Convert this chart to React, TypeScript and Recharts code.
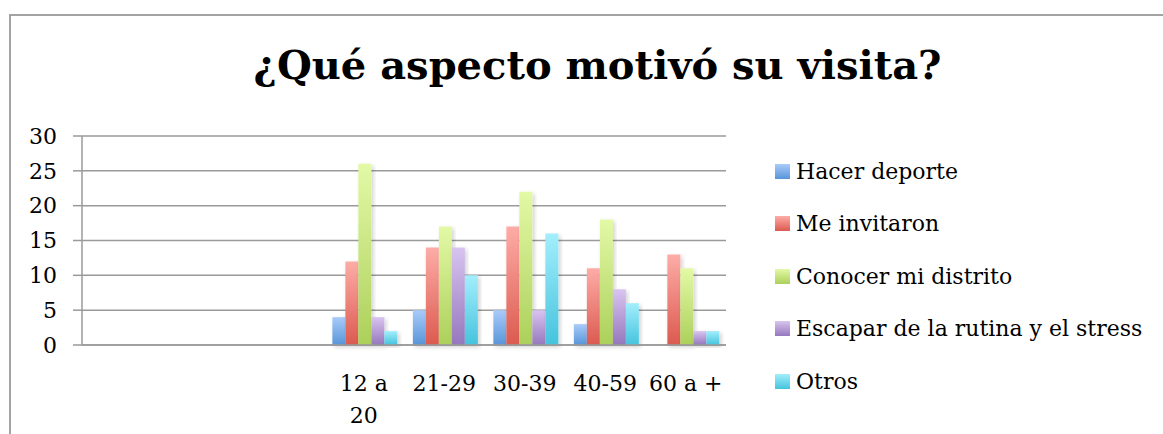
import React from "react";
import { BarChart, Bar, XAxis, YAxis, CartesianGrid } from "recharts";

const ages = ["", " ", "  ", "12 a 20", "21-29", "30-39", "40-59", "60 a +"];
const hacerDeporte = [null, null, null, 4, 5, 5, 3, 0];
const meInvitaron = [null, null, null, 12, 14, 17, 11, 13];
const conocerDistrito = [null, null, null, 26, 17, 22, 18, 11];
const escapar = [null, null, null, 4, 14, 5, 8, 2];
const otros = [null, null, null, 2, 10, 16, 6, 2];
const yTicks = [0, 5, 10, 15, 20, 25, 30];

const series = [
  { key: "hacer", name: "Hacer deporte", values: hacerDeporte, top: "#a9cbfa", bottom: "#5895d8" },
  { key: "invitaron", name: "Me invitaron", values: meInvitaron, top: "#fdaca7", bottom: "#dc5a4f" },
  { key: "conocer", name: "Conocer mi distrito", values: conocerDistrito, top: "#e3f9a6", bottom: "#acd05a" },
  { key: "escapar", name: "Escapar de la rutina y el stress", values: escapar, top: "#d8c4f0", bottom: "#9677bd" },
  { key: "otros", name: "Otros", values: otros, top: "#a3eefc", bottom: "#45c3dd" },
];

const data = ages.map((age, i) => {
  const row: Record<string, string | number | null> = { age };
  series.forEach((s) => {
    row[s.key] = s.values[i];
  });
  return row;
});

const FONT = "'DejaVu Serif', serif";
const FONT_SIZE = 22;

function AgeTick(props: any) {
  const { x, y, payload } = props;
  const label = String(payload.value).trim();
  if (!label) return null;
  // long labels wrap onto two lines like the original
  const cut = label.lastIndexOf(" ");
  const lines = label.length > 6 ? [label.slice(0, cut), label.slice(cut + 1)] : [label];
  return (
    <text x={x} y={y} textAnchor="middle" fontFamily={FONT} fontSize={FONT_SIZE} fill="#000">
      {lines.map((l, i) => (
        <tspan key={i} x={x} dy={i === 0 ? 38 : 32}>
          {l}
        </tspan>
      ))}
    </text>
  );
}

function SideLegend() {
  return (
    <div style={{ fontFamily: FONT, fontSize: FONT_SIZE, color: "#000" }}>
      {series.map((s) => (
        <div key={s.key} style={{ display: "flex", alignItems: "center", height: 52.5 }}>
          <div
            style={{
              width: 15,
              height: 15,
              marginRight: 6,
              background: `linear-gradient(${s.top}, ${s.bottom})`,
            }}
          />
          <span style={{ whiteSpace: "nowrap" }}>{s.name}</span>
        </div>
      ))}
    </div>
  );
}

export default function App() {
  return (
    <div style={{ position: "absolute", left: 0, top: 0, width: 1163, height: 434, background: "#fff", overflow: "hidden" }}>
      <div
        style={{
          position: "absolute",
          left: 9,
          top: 14,
          width: 1200,
          height: 500,
          borderLeft: "2px solid #a3a3a3",
          borderTop: "2px solid #a3a3a3",
        }}
      />
      <div
        style={{
          position: "absolute",
          left: 0,
          top: 37,
          width: 1195,
          textAlign: "center",
          fontFamily: FONT,
          fontWeight: "bold",
          fontSize: 40,
          lineHeight: "56px",
        }}
      >
        ¿Qué aspecto motivó su visita?
      </div>
      <div style={{ position: "absolute", left: 0, top: 0 }}>
        <BarChart
          width={1163}
          height={434}
          data={data}
          margin={{ top: 136, right: 437, bottom: 29, left: 0 }}
          barCategoryGap="11%"
          barGap={0}
        >
          <defs>
            {series.map((s) => (
              <linearGradient key={s.key} id={`grad-${s.key}`} x1="0" y1="0" x2="0" y2="1">
                <stop offset="0%" stopColor={s.top} />
                <stop offset="100%" stopColor={s.bottom} />
              </linearGradient>
            ))}
            <filter id="barShadow" x="-30%" y="-10%" width="160%" height="130%">
              <feDropShadow dx="2" dy="2" stdDeviation="2" floodColor="#000" floodOpacity="0.18" />
            </filter>
          </defs>
          <CartesianGrid vertical={false} stroke="#9a9a9a" strokeWidth={1.5} />
          <XAxis
            dataKey="age"
            tick={<AgeTick />}
            tickLine={false}
            axisLine={{ stroke: "#9a9a9a", strokeWidth: 1.5 }}
            interval={0}
            height={60}
          />
          <YAxis
            domain={[0, 30]}
            ticks={yTicks}
            width={82}
            tickSize={9}
            tickMargin={16}
            tickLine={{ stroke: "#9a9a9a", strokeWidth: 1.5 }}
            axisLine={{ stroke: "#9a9a9a", strokeWidth: 1.5 }}
            tick={{ fill: "#000", fontSize: FONT_SIZE, fontFamily: FONT }}
          />
          {series.map((s) => (
            <Bar
              key={s.key}
              dataKey={s.key}
              name={s.name}
              fill={`url(#grad-${s.key})`}
              filter="url(#barShadow)"
              isAnimationActive={false}
            />
          ))}
        </BarChart>
      </div>
      <div style={{ position: "absolute", left: 775, top: 145 }}>
        <SideLegend />
      </div>
    </div>
  );
}
